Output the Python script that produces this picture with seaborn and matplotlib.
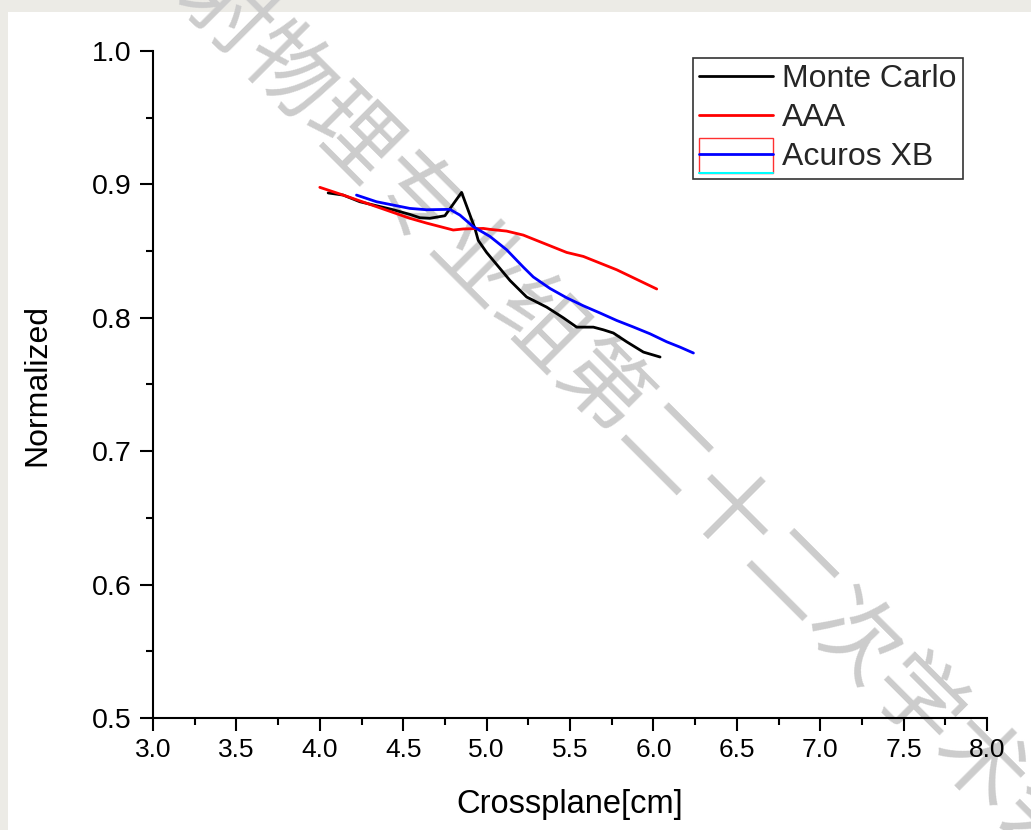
import numpy as np
import pandas as pd
import matplotlib
matplotlib.use("Agg")
import matplotlib.pyplot as plt
from matplotlib.patches import Rectangle
from matplotlib.lines import Line2D
from matplotlib.legend_handler import HandlerLine2D
from matplotlib.ticker import MultipleLocator, FormatStrFormatter
import seaborn as sns

# Profile values (crossplane position in cm vs normalized dose)
mc_x = [4.05, 4.14, 4.24, 4.34, 4.44, 4.54, 4.60, 4.66, 4.75, 4.85, 4.93, 4.95,
        5.00, 5.06, 5.14, 5.24, 5.36, 5.46, 5.54, 5.64, 5.70, 5.76, 5.84, 5.94, 6.04]
mc_y = [0.8936, 0.892, 0.887, 0.884, 0.881, 0.8775, 0.875, 0.8746, 0.8765, 0.8940,
        0.867, 0.858, 0.849, 0.840, 0.828, 0.8156, 0.808, 0.800, 0.793, 0.793,
        0.791, 0.7886, 0.782, 0.7743, 0.7706]

aaa_x = [4.00, 4.14, 4.34, 4.54, 4.64, 4.80, 4.86, 4.98, 5.02, 5.12, 5.22, 5.32,
         5.48, 5.58, 5.68, 5.78, 5.88, 6.02]
aaa_y = [0.8978, 0.892, 0.8833, 0.8746, 0.871, 0.8658, 0.8666, 0.867, 0.8663,
         0.865, 0.862, 0.857, 0.849, 0.846, 0.841, 0.836, 0.830, 0.8216]

axb_x = [4.22, 4.34, 4.54, 4.64, 4.78, 4.84, 4.92, 5.02, 5.12, 5.22, 5.28, 5.38,
         5.48, 5.58, 5.68, 5.78, 5.88, 5.98, 6.08, 6.16, 6.24]
axb_y = [0.892, 0.887, 0.882, 0.881, 0.8813, 0.877, 0.8683, 0.861, 0.851, 0.838,
         0.8306, 0.822, 0.815, 0.809, 0.8036, 0.798, 0.7931, 0.788, 0.782, 0.778,
         0.7736]

series_names = ["Monte Carlo", "AAA", "Acuros XB"]
series_colors = ["#000000", "#ff0000", "#0000ff"]

df = pd.concat([
    pd.DataFrame({"x": mc_x, "y": mc_y, "series": series_names[0]}),
    pd.DataFrame({"x": aaa_x, "y": aaa_y, "series": series_names[1]}),
    pd.DataFrame({"x": axb_x, "y": axb_y, "series": series_names[2]}),
], ignore_index=True)

sns.set_theme(style="ticks")
plt.rcParams["font.family"] = ["Liberation Sans", "DejaVu Sans"]

W, H = 1031, 830
LW = 2.0
fig = plt.figure(figsize=(W / 100, H / 100), dpi=100, facecolor="#ecebe6")

# white page area
fig.add_artist(Rectangle((8 / W, 0), 1, 1 - 12 / H, transform=fig.transFigure,
                         facecolor="white", edgecolor="none", zorder=-3))

# diagonal watermark
fig.text(0.614, 0.492, "放射物理专业组第二十二次学术会议", rotation=-45,
         rotation_mode="anchor", ha="center", va="center", fontsize=64,
         color="#cccccc", family=["Noto Sans CJK SC", "DejaVu Sans"], zorder=-1)

ax = fig.add_axes([153 / W, 1 - 718 / H, (987 - 153) / W, (718 - 51) / H])
ax.patch.set_alpha(0)

sns.lineplot(data=df, x="x", y="y", hue="series", hue_order=series_names,
             palette=dict(zip(series_names, series_colors)), sort=False,
             estimator=None, linewidth=LW, ax=ax, legend=False)

ax.set_xlim(3.0, 8.0)
ax.set_ylim(0.5, 1.0)
ax.xaxis.set_major_locator(MultipleLocator(0.5))
ax.xaxis.set_minor_locator(MultipleLocator(0.25))
ax.yaxis.set_major_locator(MultipleLocator(0.1))
ax.yaxis.set_minor_locator(MultipleLocator(0.05))
ax.xaxis.set_major_formatter(FormatStrFormatter("%.1f"))
ax.yaxis.set_major_formatter(FormatStrFormatter("%.1f"))

for side in ("top", "right"):
    ax.spines[side].set_visible(False)
for side in ("left", "bottom"):
    ax.spines[side].set_linewidth(1.5)
    ax.spines[side].set_color("black")

ax.tick_params(axis="both", which="major", direction="out", length=9.5, width=1.5,
               color="black", labelcolor="black")
ax.tick_params(axis="x", which="major", labelsize=19, pad=5)
ax.tick_params(axis="y", which="major", labelsize=20.5, pad=6)
ax.tick_params(axis="both", which="minor", direction="out", length=5, width=1.5,
               color="black")

ax.set_xlabel("Crossplane[cm]", fontsize=23.5, color="black")
ax.set_ylabel("Normalized", fontsize=23, color="black")
ax.xaxis.set_label_coords(0.5, -0.13)
ax.yaxis.set_label_coords(-0.139, 0.5)
ax.xaxis.label.set_va("center")
ax.yaxis.label.set_va("center")


class BoxedLineHandler(HandlerLine2D):
    """Line handle drawn inside a red outline with a cyan base line."""

    def create_artists(self, legend, orig_handle, xdescent, ydescent, width,
                       height, fontsize, trans):
        artists = super().create_artists(legend, orig_handle, xdescent, ydescent,
                                         width, height, fontsize, trans)
        yc = (height - ydescent) / 2
        x0 = -xdescent
        bottom = yc - 0.6 * fontsize
        box = Rectangle((x0, bottom), width, 1.1 * fontsize,
                        facecolor="none", edgecolor="#ff3030", linewidth=1.0,
                        transform=trans)
        base = Line2D([x0, x0 + width], [bottom] * 2, color="cyan",
                      linewidth=1.5, transform=trans)
        return [box, base] + artists


handles = [Line2D([], [], color=c, linewidth=LW) for c in series_colors]
leg = ax.legend(handles, series_names, loc="upper left",
                bbox_to_anchor=(0.6475, 0.9895), borderaxespad=0, fontsize=23,
                frameon=True, fancybox=False, framealpha=1, edgecolor="#333333",
                handlelength=2.3, handletextpad=0.28, borderpad=0.2,
                labelspacing=0.28, handler_map={handles[2]: BoxedLineHandler()})
leg.get_frame().set_linewidth(1.2)

fig.savefig("out.png", dpi=100, facecolor=fig.get_facecolor())
